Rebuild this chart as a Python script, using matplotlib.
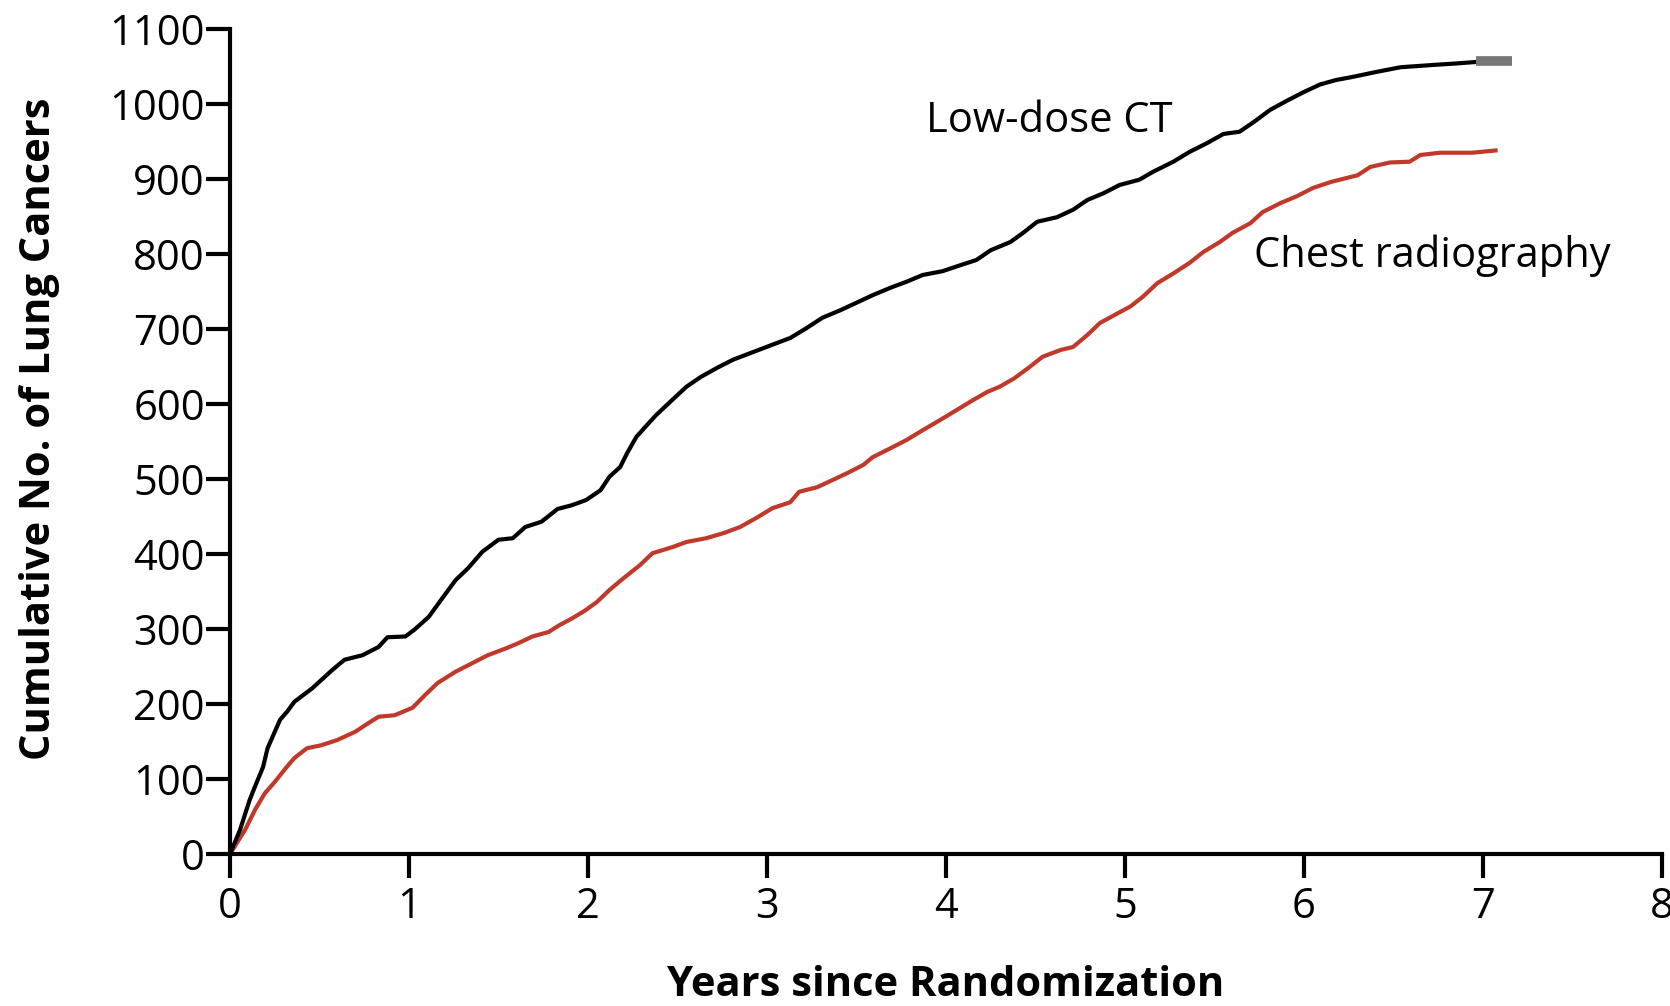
import matplotlib
matplotlib.use("Agg")
import matplotlib.pyplot as plt

# Số liệu (năm, số ca ung thư phổi cộng dồn)
ct_years = [0, 0.056, 0.11, 0.14, 0.185, 0.21, 0.28, 0.32, 0.36, 0.46, 0.57, 0.64, 0.74,
            0.83, 0.88, 0.98, 1.03, 1.11, 1.18, 1.26, 1.33, 1.41, 1.50, 1.58, 1.65, 1.74,
            1.83, 1.91, 1.99, 2.07, 2.12, 2.18, 2.22, 2.27, 2.33, 2.38, 2.46, 2.55, 2.63,
            2.72, 2.81, 2.92, 3.03, 3.13, 3.22, 3.31, 3.41, 3.50, 3.59, 3.69, 3.78, 3.87,
            3.98, 4.08, 4.17, 4.25, 4.36, 4.43, 4.51, 4.62, 4.71, 4.79, 4.88, 4.97, 5.08,
            5.16, 5.27, 5.36, 5.46, 5.55, 5.64, 5.72, 5.81, 5.91, 6.00, 6.09, 6.18, 6.27,
            6.41, 6.54, 6.72, 6.85, 6.96]
ct_counts = [0, 32, 72, 90, 116, 141, 179, 190, 203, 221, 245, 259, 265,
             276, 289, 290, 299, 316, 339, 365, 381, 403, 419, 421, 436, 443,
             460, 465, 472, 485, 503, 516, 535, 556, 572, 585, 603, 623, 636,
             648, 659, 669, 679, 688, 701, 715, 725, 735, 745, 755, 763, 772,
             777, 785, 792, 805, 816, 828, 843, 849, 859, 872, 881, 892, 899,
             910, 923, 936, 948, 960, 963, 976, 992, 1005, 1016, 1026, 1032, 1036,
             1043, 1049, 1052, 1054, 1056]
ct_tail_years = [6.96, 7.16]
ct_tail_counts = [1057, 1057]

xr_years = [0, 0.084, 0.14, 0.195, 0.25, 0.31, 0.36, 0.43, 0.51, 0.60, 0.70, 0.77, 0.83,
            0.92, 1.02, 1.09, 1.16, 1.26, 1.35, 1.44, 1.54, 1.61, 1.69, 1.78, 1.84, 1.91,
            1.98, 2.05, 2.12, 2.20, 2.29, 2.36, 2.47, 2.55, 2.66, 2.76, 2.85, 2.94, 3.03,
            3.13, 3.18, 3.28, 3.37, 3.45, 3.54, 3.59, 3.69, 3.78, 3.87, 3.97, 4.06, 4.15,
            4.23, 4.30, 4.38, 4.46, 4.54, 4.64, 4.71, 4.79, 4.86, 4.96, 5.03, 5.10, 5.18,
            5.27, 5.36, 5.44, 5.53, 5.60, 5.70, 5.77, 5.87, 5.96, 6.05, 6.15, 6.30, 6.37,
            6.48, 6.59, 6.65, 6.76, 6.94, 7.07]
xr_counts = [0, 32, 59, 81, 96, 114, 128, 141, 145, 152, 163, 174, 183,
             185, 195, 212, 228, 243, 254, 265, 274, 281, 290, 296, 305, 314,
             324, 336, 352, 368, 385, 401, 409, 416, 421, 428, 436, 448, 461,
             469, 483, 489, 499, 508, 519, 529, 541, 552, 565, 579, 592, 605,
             616, 623, 634, 648, 663, 672, 676, 692, 708, 721, 730, 743, 761,
             774, 788, 803, 816, 828, 841, 856, 868, 877, 888, 896, 905, 916,
             922, 923, 932, 935, 935, 938]

x_ticks = list(range(0, 9))
y_ticks = list(range(0, 1101, 100))

plt.rcParams['font.family'] = ['Open Sans', 'DejaVu Sans']

fig = plt.figure(figsize=(16.7, 10.06), dpi=100)
ax = fig.add_axes([0.1377, 0.1511, 0.8575, 0.8201])

ax.plot(xr_years, xr_counts, color='#c0392b', lw=3, solid_joinstyle='round')
ax.plot(ct_years, ct_counts, color='black', lw=3, solid_joinstyle='round')
ax.plot(ct_tail_years, ct_tail_counts, color='#777777', lw=7, solid_capstyle='butt')

ax.set_xlim(0, 8)
ax.set_ylim(0, 1100)
ax.set_xticks(x_ticks)
ax.set_yticks(y_ticks)

for s in ['top', 'right']:
    ax.spines[s].set_visible(False)
for s in ['left', 'bottom']:
    ax.spines[s].set_linewidth(3)

ax.tick_params(axis='both', direction='out', length=17, width=3, labelsize=30, colors='black')
ax.tick_params(axis='y', pad=1)
ax.tick_params(axis='x', pad=6)

ax.set_xlabel('Years since Randomization', fontsize=30, fontweight='bold')
ax.set_ylabel('Cumulative No. of Lung Cancers', fontsize=30, fontweight='bold')
ax.xaxis.set_label_coords(0.5, -0.159)
ax.yaxis.set_label_coords(-0.133, 0.515)
ax.xaxis.label.set_va('center')
ax.yaxis.label.set_va('center')

ax.text(3.89, 963, 'Low-dose CT', fontsize=30, ha='left', va='baseline')
ax.text(5.72, 783, 'Chest radiography', fontsize=30, ha='left', va='baseline')

fig.savefig('out.png', dpi=100)
